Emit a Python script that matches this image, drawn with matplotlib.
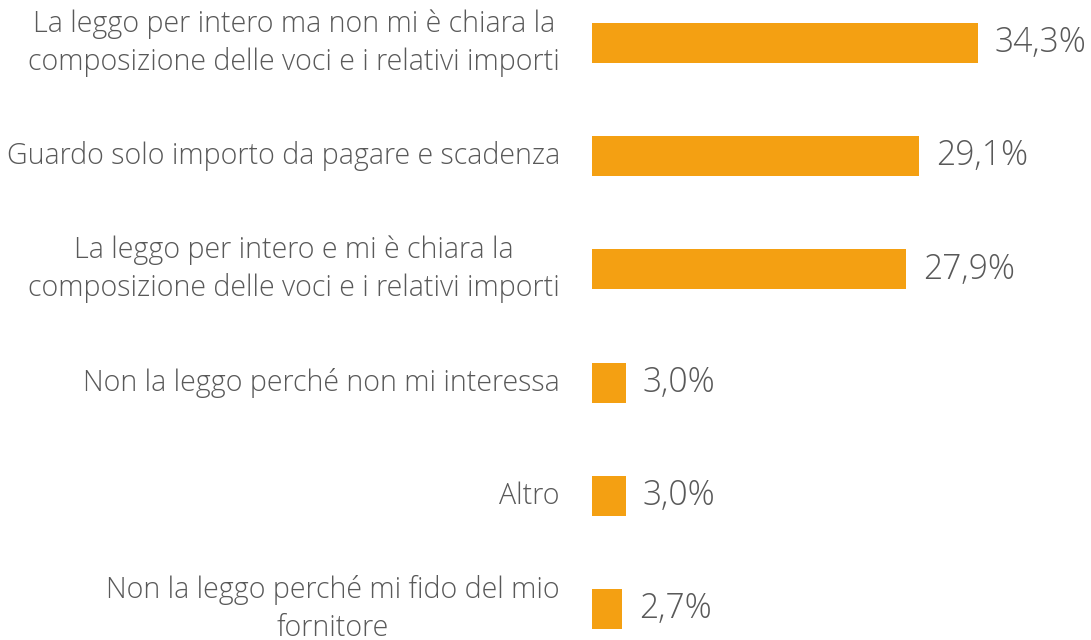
import matplotlib.pyplot as plt

# dati
categorie = [
    "La leggo per intero ma non mi è chiara la\ncomposizione delle voci e i relativi importi",
    "Guardo solo importo da pagare e scadenza",
    "La leggo per intero e mi è chiara la\ncomposizione delle voci e i relativi importi",
    "Non la leggo perché non mi interessa",
    "Altro",
    "Non la leggo perché mi fido del mio\nfornitore",
]
valori = [34.3, 29.1, 27.9, 3.0, 3.0, 2.7]
etichette = ["34,3%", "29,1%", "27,9%", "3,0%", "3,0%", "2,7%"]

ARANCIO = '#F4A012'
GRIGIO = '#595959'

plt.rcParams['font.family'] = ['Open Sans', 'DejaVu Sans']

fig = plt.figure(figsize=(10.91, 6.4), dpi=100)
ax = fig.add_axes([0.5426, 0.0, 0.4574, 1.0])

y = list(range(len(categorie)))
ax.barh(y, valori, height=0.355, color=ARANCIO)

ax.set_xlim(0, 44.36)
ax.set_ylim(5.274, -0.38)

for yi, v, lab in zip(y, valori, etichette):
    ax.text(v + 1.5, yi, lab, va='center', ha='left', fontsize=24.2, color=GRIGIO,
            fontweight='light')

for yi, cat in zip(y, categorie):
    ax.text(-2.85, yi, cat, va='center', ha='right', fontsize=20.6,
            color=GRIGIO, linespacing=1.35, multialignment='center',
            fontweight='light')

ax.axis('off')

fig.savefig('out.png', dpi=100)
plt.close(fig)
